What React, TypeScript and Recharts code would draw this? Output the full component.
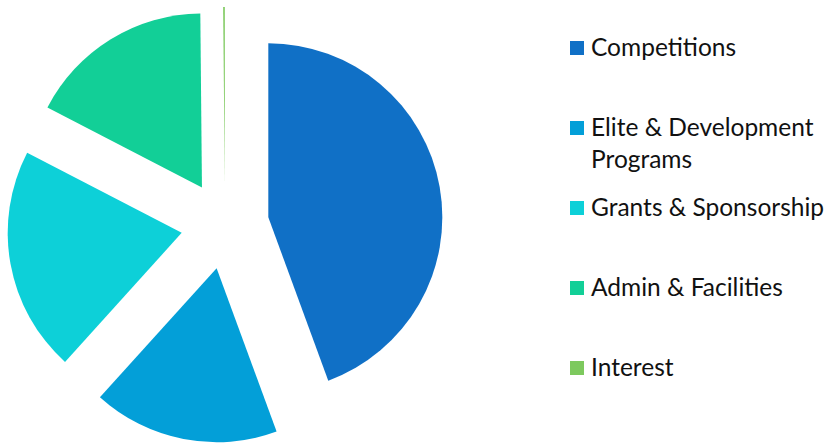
import React from 'react';
import { PieChart, Pie, Cell, Sector, Legend } from 'recharts';

const categories = ['Competitions', 'Elite & Development Programs', 'Grants & Sponsorship', 'Admin & Facilities', 'Interest'];
const shares = [44.4, 17.3, 20.9, 17.25, 0.15];
const colors = ['#1070C6', '#039FD8', '#0DD0D8', '#12CF97', '#7DC95E'];

const data = categories.map((name, i) => ({ name, value: shares[i] }));

const RADIAN = Math.PI / 180;
const EXPLODE = 44;

// pull every slice out along its own middle angle
const ExplodedSector = (props: any) => {
  const { cx, cy, midAngle, innerRadius, outerRadius, startAngle, endAngle, fill } = props;
  const dx = EXPLODE * Math.cos(-midAngle * RADIAN);
  const dy = EXPLODE * Math.sin(-midAngle * RADIAN);
  return (
    <Sector
      cx={cx + dx}
      cy={cy + dy}
      innerRadius={innerRadius}
      outerRadius={outerRadius}
      startAngle={startAngle}
      endAngle={endAngle}
      fill={fill}
      stroke="none"
    />
  );
};

const LegendList: React.FC<any> = () => (
  <div style={{ fontFamily: 'Lato, sans-serif', fontSize: 24.5, lineHeight: '32px', color: '#111' }}>
    {categories.map((name, i) => (
      <div key={name} style={{ display: 'flex', alignItems: 'flex-start', height: 80 }}>
        <span style={{ width: 14, height: 14, background: colors[i], marginTop: 10, marginRight: 7, flex: 'none' }} />
        <span style={{ width: 238 }}>{name}</span>
      </div>
    ))}
  </div>
);

const App: React.FC = () => {
  return (
    <div style={{ position: 'absolute', left: 0, top: 0, background: '#fff' }}>
      <PieChart width={830} height={444} margin={{ top: 0, right: 0, bottom: 0, left: 0 }}>
        <Pie
          data={data}
          dataKey="value"
          nameKey="name"
          cx={225}
          cy={225}
          outerRadius={174}
          startAngle={90}
          endAngle={-270}
          stroke="none"
          shape={ExplodedSector}
          isAnimationActive={false}
        >
          {data.map((d, i) => (
            <Cell key={d.name} fill={colors[i]} />
          ))}
        </Pie>
        <Legend
          layout="vertical"
          align="right"
          verticalAlign="middle"
          content={<LegendList />}
          wrapperStyle={{ left: 570, top: 31, right: 'auto', width: 260 }}
        />
      </PieChart>
    </div>
  );
};

export default App;
